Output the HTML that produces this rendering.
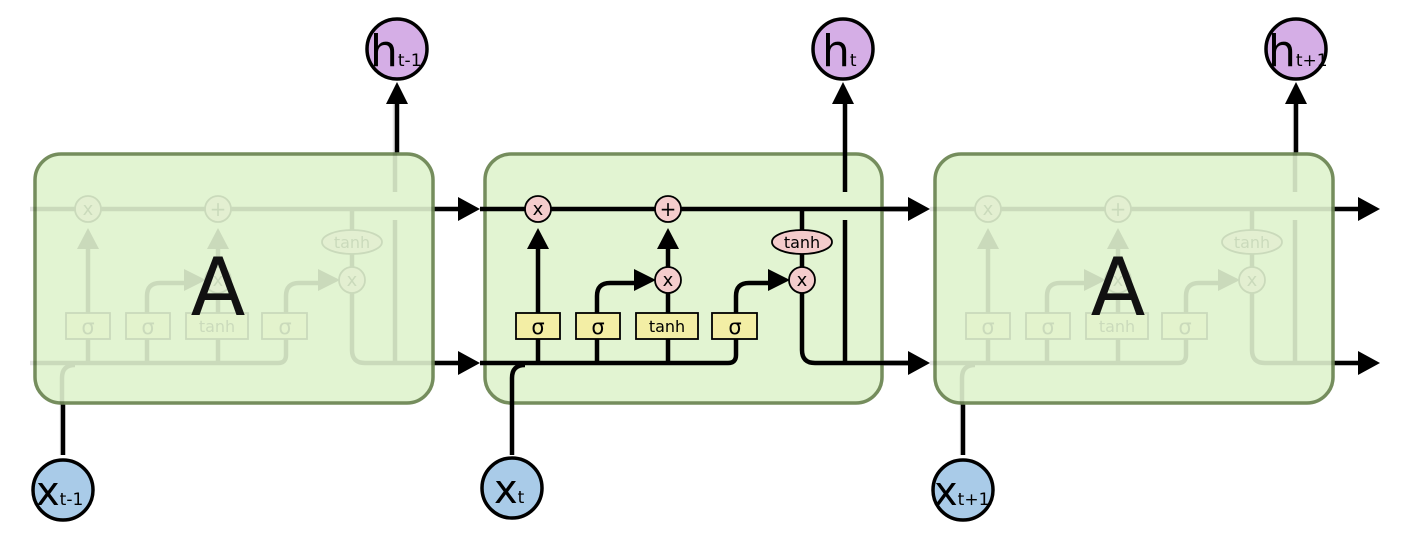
<!DOCTYPE html>
<html><head><meta charset="utf-8"><style>
html,body{margin:0;padding:0;background:#fff;width:1408px;height:548px;overflow:hidden}
text{font-family:"DejaVu Sans","Liberation Sans",sans-serif}
</style></head><body>
<svg width="1408" height="548" viewBox="0 0 1408 548" xmlns="http://www.w3.org/2000/svg">
<defs>
<g id="cell">
  <g stroke="#000" stroke-width="4.5" fill="none" stroke-linecap="butt">
    <line x1="-4" y1="209" x2="424" y2="209"/>
    <path d="M-4 363 H244 Q252 363 252 355 V296 Q252 283 265 283 H290"/>
    <path d="M28 455 V378 Q28 365 41 365"/>
    <line x1="54" y1="363" x2="54" y2="248"/>
    <path d="M113 363 V296 Q113 283 126 283 H150"/>
    <line x1="184" y1="363" x2="184" y2="248"/>
    <line x1="318" y1="209" x2="318" y2="280" />
    <path d="M318 280 V350 Q318 363 331 363 H424"/>
    <line x1="361" y1="192" x2="361" y2="100"/>
    <line x1="361" y1="220" x2="361" y2="363"/>
  </g>
  <g fill="#000">
    <polygon points="54,228 43,249 65,249"/>
    <polygon points="184,228 173,249 195,249"/>
    <polygon points="172,280 150,269 150,291"/>
    <polygon points="306,280 284,269 284,291"/>
  </g>
  <g stroke="#000" stroke-width="1.8">
    <rect x="32" y="313" width="44" height="26" fill="#f3eea5"/>
    <rect x="92" y="313" width="44" height="26" fill="#f3eea5"/>
    <rect x="152" y="313" width="62" height="26" fill="#f3eea5"/>
    <rect x="228" y="313" width="45" height="26" fill="#f3eea5"/>
    <circle cx="54" cy="209" r="13" fill="#f4cccc"/>
    <circle cx="184" cy="209" r="13" fill="#f4cccc"/>
    <circle cx="184" cy="280" r="13" fill="#f4cccc"/>
    <circle cx="318" cy="280" r="13" fill="#f4cccc"/>
    <ellipse cx="318" cy="242" rx="30" ry="12" fill="#f4cccc"/>
  </g>
  <g font-size="21" text-anchor="middle" fill="#000">
    <text x="54" y="334">σ</text>
    <text x="114" y="334">σ</text>
    <text x="251" y="334">σ</text>
  </g>
  <g font-size="16" text-anchor="middle" fill="#000">
    <text x="183" y="332">tanh</text>
    <text x="318" y="248">tanh</text>
    <text x="54" y="215" font-size="18">x</text>
    <text x="184" y="286" font-size="18">x</text>
    <text x="318" y="286" font-size="18">x</text>
    <text x="184" y="216" font-size="20">+</text>
  </g>
</g>
</defs>

<!-- outer arrows / lines -->
<g stroke="#000" stroke-width="4.5">
  <line x1="397" y1="153" x2="397" y2="100"/>
  <line x1="1296" y1="153" x2="1296" y2="100"/>
  <line x1="63" y1="455" x2="63" y2="403"/>
  <line x1="963" y1="455" x2="963" y2="403"/>
  <line x1="430" y1="209" x2="460" y2="209"/>
  <line x1="430" y1="363" x2="460" y2="363"/>
  <line x1="880" y1="209" x2="910" y2="209"/>
  <line x1="880" y1="363" x2="910" y2="363"/>
  <line x1="1330" y1="209" x2="1360" y2="209"/>
  <line x1="1330" y1="363" x2="1360" y2="363"/>
</g>
<g fill="#000">
  <polygon points="397,82 386,104 408,104"/>
  <polygon points="843,82 832,104 854,104"/>
  <polygon points="1296,82 1285,104 1307,104"/>
  <polygon points="480,209 458,197 458,221"/>
  <polygon points="480,363 458,351 458,375"/>
  <polygon points="930,209 908,197 908,221"/>
  <polygon points="930,363 908,351 908,375"/>
  <polygon points="1380,209 1358,197 1358,221"/>
  <polygon points="1380,363 1358,351 1358,375"/>
</g>

<!-- left cell -->
<rect x="35" y="154" width="398" height="249" rx="26" fill="#e2f4d2" stroke="#758d5d" stroke-width="3.5"/>
<g opacity="0.1"><use href="#cell" transform="translate(34,0)"/></g>
<text x="218" y="315" font-size="80" text-anchor="middle" fill="#111">A</text>

<!-- middle cell -->
<rect x="485" y="154" width="397" height="249" rx="26" fill="#e2f4d2" stroke="#758d5d" stroke-width="3.5"/>
<use href="#cell" transform="translate(484,0)"/>

<!-- right cell -->
<rect x="935" y="154" width="398" height="249" rx="26" fill="#e2f4d2" stroke="#758d5d" stroke-width="3.5"/>
<g opacity="0.1"><use href="#cell" transform="translate(934,0)"/></g>
<text x="1118" y="315" font-size="80" text-anchor="middle" fill="#111">A</text>

<!-- io nodes -->
<g stroke="#000" stroke-width="3.5">
  <circle cx="397" cy="49" r="30" fill="#d5aee6"/>
  <circle cx="843" cy="49" r="30" fill="#d5aee6"/>
  <circle cx="1296" cy="49" r="30" fill="#d5aee6"/>
  <circle cx="63" cy="490" r="30" fill="#a9cbe8"/>
  <circle cx="512" cy="488" r="30" fill="#a9cbe8"/>
  <circle cx="963" cy="490" r="30" fill="#a9cbe8"/>
</g>
<g fill="#000">
  <text x="370" y="66" font-size="44">h<tspan font-size="17">t-1</tspan></text>
  <text x="822" y="66" font-size="44">h<tspan font-size="17">t</tspan></text>
  <text x="1268" y="66" font-size="44">h<tspan font-size="17">t+1</tspan></text>
  <text x="36" y="505" font-size="40">x<tspan font-size="17">t-1</tspan></text>
  <text x="494" y="503" font-size="40">x<tspan font-size="17">t</tspan></text>
  <text x="934" y="505" font-size="40">x<tspan font-size="17">t+1</tspan></text>
</g>
</svg>
</body></html>
